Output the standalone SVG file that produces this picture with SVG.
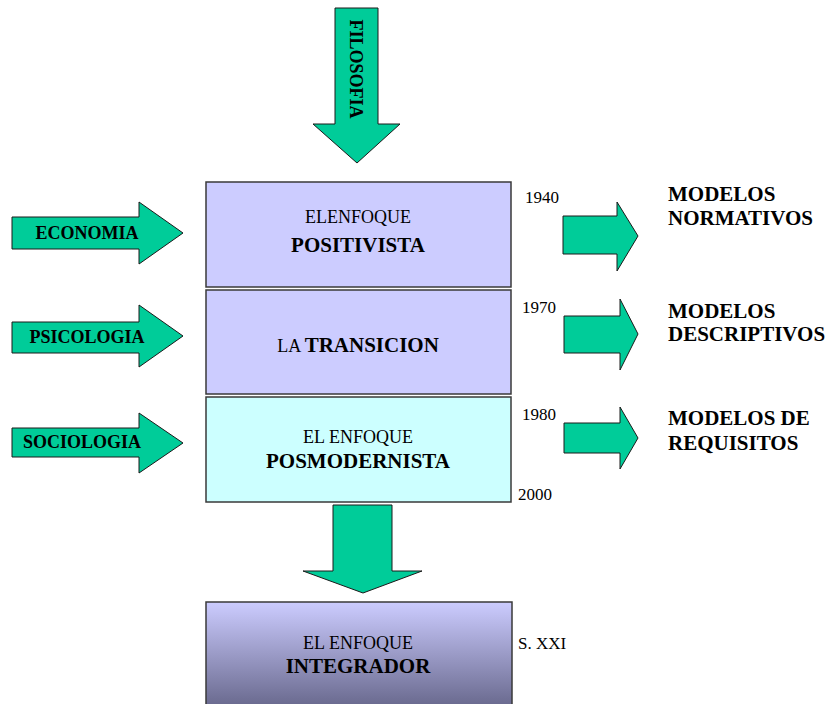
<svg xmlns="http://www.w3.org/2000/svg" width="832" height="704" viewBox="0 0 832 704">
<style>
.arrow{fill:#00cc99;stroke:#1a1a1a;stroke-width:1}
.box{stroke:#3a3a3a;stroke-width:1.5}
text{font-family:"Liberation Serif","Times New Roman",serif;fill:#000}
.lbl{font-weight:bold;font-size:18px}
.reg{font-size:18px}
.big{font-weight:bold;font-size:21px}
.yr{font-size:17px}
.mod{font-weight:bold;font-size:21px}
</style>
<defs>
<linearGradient id="g4" x1="0" y1="0" x2="0" y2="1">
<stop offset="0" stop-color="#ccccff"/>
<stop offset="1" stop-color="#646488"/>
</linearGradient>
</defs>
<rect width="832" height="704" fill="#ffffff"/>
<g id="connectors">
<g id="arrow-filosofia">
<polygon class="arrow" points="335,8 378,8 378,124 400,124 357,163 313,124 335,124"/>
<text class="lbl" transform="translate(350,69) rotate(90)" text-anchor="middle">FILOSOFIA</text>
</g>
<g id="arrow-economia">
<polygon class="arrow" points="12,217 139,217 139,202 183,233 139,264 139,249 12,249"/>
<text class="lbl" x="87" y="239" text-anchor="middle">ECONOMIA</text>
</g>
<g id="arrow-psicologia">
<polygon class="arrow" points="12,322 139,322 139,305 183,336 139,367 139,353 12,353"/>
<text class="lbl" x="87" y="343" text-anchor="middle">PSICOLOGIA</text>
</g>
<g id="arrow-sociologia">
<polygon class="arrow" points="12,428 139,428 139,413 183,443 139,473 139,457 12,457"/>
<text class="lbl" x="82" y="448" text-anchor="middle">SOCIOLOGIA</text>
</g>
<polygon id="arrow-down" class="arrow" points="333,505 392,505 392,571 422,571 363,593 303,571 333,571"/>
<polygon id="arrow-r1" class="arrow" points="563,216 617,216 617,202 638,236 617,271 617,254 563,254"/>
<polygon id="arrow-r2" class="arrow" points="564,316 620,316 620,299 638,334 620,370 620,353 564,353"/>
<polygon id="arrow-r3" class="arrow" points="564,423 620,423 620,407 638,438 620,469 620,453 564,453"/>
</g>
<g id="node-positivista">
<rect class="box" x="206" y="182" width="305" height="105" fill="#ccccff"/>
<text class="reg" x="358" y="223" text-anchor="middle">ELENFOQUE</text>
<text class="big" x="358" y="252" text-anchor="middle">POSITIVISTA</text>
</g>
<g id="node-transicion">
<rect class="box" x="206" y="290" width="305" height="104" fill="#ccccff"/>
<text x="358" y="352" text-anchor="middle"><tspan class="reg">LA </tspan><tspan class="big">TRANSICION</tspan></text>
</g>
<g id="node-posmodernista">
<rect class="box" x="206" y="397" width="305" height="105" fill="#ccffff"/>
<text class="reg" x="358" y="443" text-anchor="middle">EL ENFOQUE</text>
<text class="big" x="358" y="468" text-anchor="middle">POSMODERNISTA</text>
</g>
<g id="node-integrador">
<rect class="box" x="206" y="602" width="306" height="110" fill="url(#g4)"/>
<text class="reg" x="358" y="649" text-anchor="middle">EL ENFOQUE</text>
<text class="big" x="358" y="673" text-anchor="middle">INTEGRADOR</text>
</g>
<g id="years">
<text class="yr" x="525" y="203">1940</text>
<text class="yr" x="522" y="313">1970</text>
<text class="yr" x="522" y="420">1980</text>
<text class="yr" x="518" y="500">2000</text>
<text class="yr" x="518" y="649">S. XXI</text>
</g>
<g id="node-normativos">
<text class="mod" x="668" y="201">MODELOS</text>
<text class="mod" x="668" y="225">NORMATIVOS</text>
</g>
<g id="node-descriptivos">
<text class="mod" x="668" y="318">MODELOS</text>
<text class="mod" x="668" y="341">DESCRIPTIVOS</text>
</g>
<g id="node-requisitos">
<text class="mod" x="668" y="425">MODELOS DE</text>
<text class="mod" x="668" y="450">REQUISITOS</text>
</g>
</svg>
